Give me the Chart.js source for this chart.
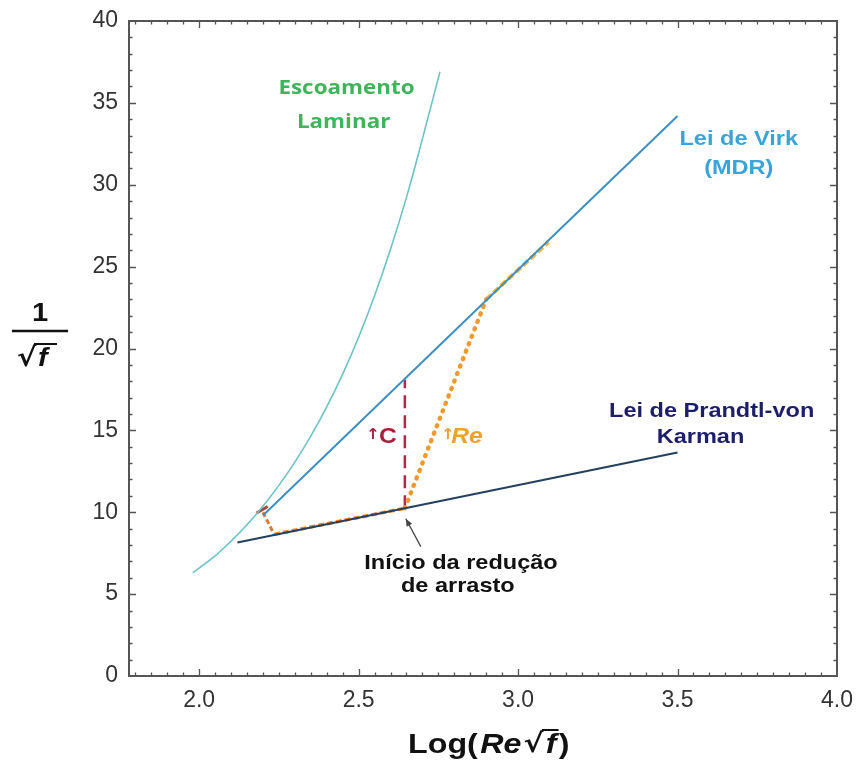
<!DOCTYPE html>
<html>
<head>
<meta charset="utf-8">
<script src="https://cdn.jsdelivr.net/npm/chart.js@4"></script>
<style>
html, body { margin: 0; padding: 0; background: #fff; }
</style>
</head>
<body>
<canvas id="chart" width="857" height="764"></canvas>
<script>
// curvas
const laminarX = [1.98, 2.05, 2.10, 2.15, 2.20, 2.25, 2.30, 2.35, 2.40, 2.45, 2.50, 2.55, 2.60, 2.65, 2.70, 2.755];
const laminarY = [6.3, 7.34, 8.24, 9.24, 10.37, 11.64, 13.06, 14.65, 16.44, 18.44, 20.69, 23.22, 26.06, 29.23, 32.8, 36.9];
const virkX = [2.20, 3.50];
const virkY = [9.8, 34.2];
const prandtlX = [2.12, 3.50];
const prandtlY = [8.15, 13.65];

// caminho da reducao de arrasto (laranja)
const descidaX = [2.20, 2.235];
const descidaY = [10.0, 8.65];
const inicioX = [2.235, 2.645];
const inicioY = [8.65, 10.25];
const subidaX = [2.645, 2.90];
const subidaY = [10.25, 23.0];
const mdrX = [2.90, 3.095];
const mdrY = [23.0, 26.5];
const marcaX = [2.18, 2.215];
const marcaY = [9.95, 10.35];
// aumento de C
const cX = [2.645, 2.645];
const cY = [10.25, 18.1];

const xTicks = [2.0, 2.5, 3.0, 3.5, 4.0];
const yTicks = [0, 5, 10, 15, 20, 25, 30, 35, 40];

function serie(xs, ys) {
	return xs.map(function(x, i) { return { x: x, y: ys[i] }; });
}

function linha(xs, ys, cor, largura, traco) {
	return {
		data: serie(xs, ys),
		showLine: true,
		borderColor: cor,
		borderWidth: largura,
		borderDash: traco || [],
		pointRadius: 0,
		fill: false,
		tension: 0
	};
}

const laminar = linha(laminarX, laminarY, '#6cc3c6', 1.6);
laminar.tension = 0.4;
const subida = linha(subidaX, subidaY, '#f09a2e', 4.5, [1, 7]);
subida.borderCapStyle = 'round';

const datasets = [
	laminar,
	linha(virkX, virkY, '#3d8fc1', 2),
	linha(prandtlX, prandtlY, '#23405e', 2),
	linha(descidaX, descidaY, '#dc7a30', 3, [5, 3]),
	linha(inicioX, inicioY, '#e8862a', 3.5, [6, 3]),
	subida,
	linha(mdrX, mdrY, '#f6b54a', 4, [7, 3]),
	linha(marcaX, marcaY, '#a8483a', 3),
	linha(cX, cY, '#b3284a', 2.5, [13, 7])
];

// textos no grafico (posicao em unidades dos eixos)
const fonteRotulo = 'bold 21px "Liberation Sans"';
const textos = [
	{ t: 'Escoamento', x: 2.462, y: 35.9, cor: '#3fb45a', fonte: '700 20px "Open Sans"' },
	{ t: 'Laminar', x: 2.453, y: 33.8, cor: '#3fb45a', fonte: '700 20px "Open Sans"' },
	{ t: 'Lei de Virk', x: 3.692, y: 32.8, cor: '#3aa4d8', fonte: fonteRotulo },
	{ t: '(MDR)', x: 3.692, y: 31.0, cor: '#3aa4d8', fonte: fonteRotulo },
	{ t: 'Lei de Prandtl-von', x: 3.607, y: 16.2, cor: '#1d1e6b', fonte: fonteRotulo },
	{ t: 'Karman', x: 3.572, y: 14.6, cor: '#1d1e6b', fonte: fonteRotulo },
	{ t: 'Início da redução', x: 2.821, y: 6.87, cor: '#111', fonte: fonteRotulo },
	{ t: 'de arrasto', x: 2.811, y: 5.47, cor: '#111', fonte: fonteRotulo },
	{ t: 'C', x: 2.592, y: 14.6, cor: '#a8203e', fonte: 'bold 22px "Liberation Sans"' },
	{ t: 'Re', x: 2.84, y: 14.6, cor: '#f0a030', fonte: 'italic bold 22px "Liberation Sans"' },
	{ t: '↑', x: 2.545, y: 14.7, cor: '#a8203e', fonte: 'bold 15px "DejaVu Sans"' },
	{ t: '↑', x: 2.78, y: 14.7, cor: '#f0a030', fonte: 'bold 15px "DejaVu Sans"' }
];
const esticar = 1.12;

function escrever(ctx, t, x, y, e) {
	ctx.save();
	ctx.translate(x, y);
	ctx.scale(e, 1);
	ctx.fillText(t, 0, 0);
	ctx.restore();
}

const moldura = {
	id: 'moldura',
	afterDatasetsDraw: function(chart) {
		const ctx = chart.ctx;
		const a = chart.chartArea;
		const sx = chart.scales.x;
		const sy = chart.scales.y;
		ctx.save();
		ctx.strokeStyle = '#555';
		ctx.lineWidth = 1.3;
		ctx.beginPath();
		for (let v = 1.8; v < 4.0 - 1e-6; v += 0.05) {
			const px = Math.round(sx.getPixelForValue(v)) + 0.5;
			const maior = Math.abs(v * 2 - Math.round(v * 2)) < 1e-6;
			const l = maior ? 7 : 3.5;
			ctx.moveTo(px, a.bottom); ctx.lineTo(px, a.bottom - l);
			ctx.moveTo(px, a.top); ctx.lineTo(px, a.top + l);
		}
		for (let v = 1; v < 40; v++) {
			const py = Math.round(sy.getPixelForValue(v)) + 0.5;
			const l = v % 5 === 0 ? 7 : 3.5;
			ctx.moveTo(a.left, py); ctx.lineTo(a.left + l, py);
			ctx.moveTo(a.right, py); ctx.lineTo(a.right - l, py);
		}
		ctx.stroke();
		ctx.lineWidth = 2;
		ctx.strokeRect(a.left, a.top, a.right - a.left, a.bottom - a.top);

		// textos
		ctx.textAlign = 'center';
		ctx.textBaseline = 'middle';
		textos.forEach(function(o) {
			ctx.font = o.fonte;
			ctx.fillStyle = o.cor;
			escrever(ctx, o.t, sx.getPixelForValue(o.x), sy.getPixelForValue(o.y), esticar);
		});

		// seta do inicio da reducao
		const x0 = sx.getPixelForValue(2.695), y0 = sy.getPixelForValue(7.9);
		const x1 = sx.getPixelForValue(2.648), y1 = sy.getPixelForValue(9.6);
		const ang = Math.atan2(y1 - y0, x1 - x0);
		ctx.strokeStyle = '#444';
		ctx.fillStyle = '#444';
		ctx.lineWidth = 1.3;
		ctx.beginPath();
		ctx.moveTo(x0, y0); ctx.lineTo(x1, y1);
		ctx.stroke();
		ctx.beginPath();
		ctx.moveTo(x1, y1);
		ctx.lineTo(x1 - 8 * Math.cos(ang - 0.4), y1 - 8 * Math.sin(ang - 0.4));
		ctx.lineTo(x1 - 8 * Math.cos(ang + 0.4), y1 - 8 * Math.sin(ang + 0.4));
		ctx.closePath();
		ctx.fill();

		// titulo do eixo y: 1 / raiz(f)
		ctx.fillStyle = '#111';
		ctx.strokeStyle = '#111';
		ctx.font = 'bold 26px "Liberation Sans"';
		escrever(ctx, '1', 40, 314, esticar);
		ctx.lineWidth = 2.5;
		ctx.beginPath();
		ctx.moveTo(12, 331); ctx.lineTo(68, 331);
		ctx.stroke();
		ctx.textAlign = 'left';
		ctx.font = 'bold 26px "DejaVu Sans"';
		escrever(ctx, '√', 17, 359, esticar);
		ctx.font = 'italic bold 26px "Liberation Sans"';
		escrever(ctx, 'f', 38, 359, esticar);
		ctx.lineWidth = 2;
		ctx.beginPath();
		ctx.moveTo(34, 344); ctx.lineTo(57, 344);
		ctx.stroke();

		// titulo do eixo x: Log(Re raiz(f))
		const partes = [
			['Log(', 'bold 28px "Liberation Sans"'],
			['Re', 'italic bold 28px "Liberation Sans"'],
			['√', 'bold 26px "DejaVu Sans"'],
			['f', 'italic bold 28px "Liberation Sans"'],
			[')', 'bold 28px "Liberation Sans"']
		];
		const e2 = 1.15;
		let total = 0;
		partes.forEach(function(p) { ctx.font = p[1]; total += (ctx.measureText(p[0]).width + 2) * e2; });
		let cx = 490 - total / 2;
		const ty = 745;
		partes.forEach(function(p, i) {
			ctx.font = p[1];
			escrever(ctx, p[0], cx, ty, e2);
			const w = ctx.measureText(p[0]).width * e2;
			if (i === 3) {
				ctx.lineWidth = 2;
				ctx.beginPath();
				ctx.moveTo(cx - 4, ty - 15); ctx.lineTo(cx + w + 2, ty - 15);
				ctx.stroke();
			}
			cx += w + 2 * e2;
		});
		ctx.restore();
	}
};

new Chart(document.getElementById('chart'), {
	type: 'scatter',
	data: { datasets: datasets },
	options: {
		responsive: false,
		animation: false,
		devicePixelRatio: 1,
		layout: { padding: { top: 21, right: 20, left: 0, bottom: 0 } },
		plugins: { legend: { display: false }, tooltip: { enabled: false } },
		scales: {
			x: {
				type: 'linear',
				min: 1.78,
				max: 4.0,
				afterFit: function(s) { s.height = 88; s.paddingLeft = 0; s.paddingRight = 0; },
				afterBuildTicks: function(s) { s.ticks = xTicks.map(function(v) { return { value: v }; }); },
				grid: { display: false, drawTicks: false },
				border: { display: false },
				ticks: {
					padding: 11,
					color: '#333',
					font: { family: 'Liberation Sans', size: 23 },
					callback: function(v) { return Number(v).toFixed(1); }
				}
			},
			y: {
				min: 0,
				max: 40,
				afterFit: function(s) { s.width = 129; s.paddingTop = 0; s.paddingBottom = 0; },
				afterBuildTicks: function(s) { s.ticks = yTicks.map(function(v) { return { value: v }; }); },
				grid: { display: false, drawTicks: false },
				border: { display: false },
				ticks: {
					padding: 11,
					color: '#333',
					font: { family: 'Liberation Sans', size: 23 }
				}
			}
		}
	},
	plugins: [moldura]
});
</script>
</body>
</html>
